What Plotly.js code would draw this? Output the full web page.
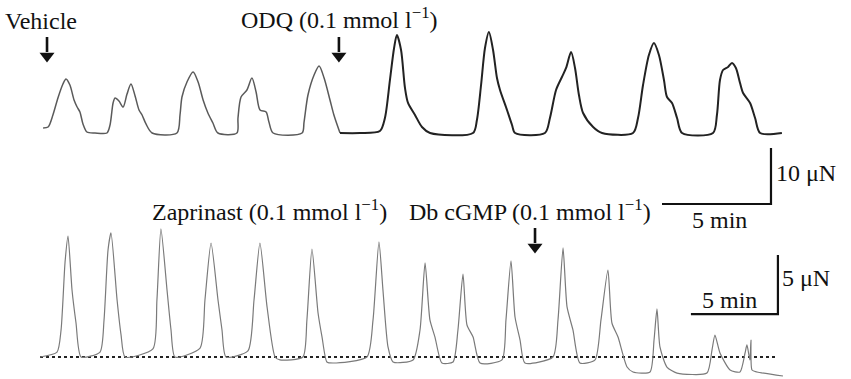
<!DOCTYPE html>
<html>
<head>
<meta charset="utf-8">
<script src="https://cdn.plot.ly/plotly-3.0.1.min.js"></script>
<style>html,body{margin:0;padding:0;background:#fff;}#chart{width:851px;height:379px;}</style>
</head>
<body>
<div id="chart"></div>
<script>
// ---- Top trace (time in min, force in μN) : vehicle period ----
const topVehT = [0.05,0.28,0.50,0.73,0.96,1.10,1.28,1.47,1.61,1.74,1.88,2.06,2.43,2.98,
  3.12,3.26,3.35,3.53,3.72,3.90,4.08,4.27,4.45,4.59,4.77,5.05,6.19,
  6.33,6.42,6.65,6.93,7.16,7.39,7.61,7.84,8.07,8.94,
  8.99,9.13,9.40,9.63,9.82,10.00,10.28,10.41,10.60,11.93,
  12.02,12.20,12.48,12.71,12.94,13.21,13.39,13.67];
const topVehF = [0.89,1.07,3.21,6.25,8.75,9.64,8.57,5.89,4.64,3.75,1.61,0.18,0,0,
  1.43,5.36,6.25,5.71,4.64,6.96,8.75,6.61,4.11,3.21,1.61,0,0,
  3.21,6.43,9.11,10.89,9.11,5.89,3.57,1.79,0,0,
  2.68,6.43,7.68,9.82,7.32,4.11,3.75,1.96,0,0,
  1.96,6.79,10.36,11.96,9.82,5.89,3.21,0];
// ---- Top trace : ODQ period ----
const topOdqT = [13.67,14.59,15.50,15.73,15.96,16.15,16.28,16.47,16.65,16.79,17.11,17.43,17.80,19.77,
  19.95,20.14,20.32,20.50,20.69,20.87,21.01,21.33,21.56,21.70,23.07,
  23.30,23.58,23.85,24.04,24.27,24.45,24.63,24.82,25.28,25.69,27.11,
  27.34,27.57,27.84,28.07,28.30,28.53,28.67,28.90,29.13,29.36,30.78,
  30.96,31.10,31.24,31.47,31.65,31.83,32.02,32.16,32.48,32.71,32.94,33.94];
const topOdqF = [0,0,0.36,2.68,9.46,15.18,17.50,14.82,8.04,5.36,3.21,1.07,0,0,
  2.32,8.57,15.18,18.04,14.82,9.82,7.68,4.11,1.43,0,0,
  2.68,7.68,10.00,11.61,14.46,11.61,6.79,3.57,1.07,0,0,
  2.68,8.57,13.93,16.07,13.93,9.46,6.43,5.36,2.68,0,0,
  3.21,9.46,11.25,11.79,12.50,11.61,8.93,7.14,5.36,2.68,0,0];
// ---- Bottom trace (time in min, force in μN) ----
const botT = [0,0.98,1.21,1.44,1.61,1.84,2.07,2.36,3.45,3.68,3.91,4.08,4.43,4.66,4.89,
  6.49,6.72,6.95,7.30,7.53,7.76,9.20,9.48,9.83,10.23,10.46,10.69,
  11.95,12.30,12.64,13.05,13.51,13.79,15.11,15.34,15.63,15.98,16.21,16.49,16.84,
  18.79,19.14,19.48,19.71,20.00,20.29,21.44,21.84,22.13,22.41,22.70,23.10,23.74,
  24.02,24.31,24.54,24.89,25.29,26.55,26.78,27.07,27.30,27.59,27.87,
  29.48,29.77,30.06,30.29,30.63,31.03,31.90,32.24,32.64,32.87,33.22,33.74,34.08,
  35.06,35.29,35.46,35.63,36.03,36.61,38.33,38.62,38.79,39.08,39.66,40.23,
  40.52,40.63,40.80,40.86,40.92,41.21,42.70];
const botF = [0,0.42,2.29,8.05,10.25,5.68,2.88,0,0.42,3.14,9.07,10.51,4.83,1.86,0,
  0.68,4.83,10.85,5.68,2.29,0,0.76,4.83,9.66,4.83,2.29,0,
  0.51,4.83,9.66,4.24,0,-0.25,0,3.14,9.15,3.73,1.69,-0.42,-0.51,
  0,3.14,9.75,5.68,0.85,-0.42,-0.25,2.29,7.97,3.14,1.69,-0.51,-0.42,
  2.29,7.03,2.71,1.69,-0.51,-0.25,3.14,8.14,3.39,1.44,-0.51,
  0,3.14,9.24,4.24,2.29,-0.51,-0.25,3.14,7.37,2.88,1.69,-0.85,-1.27,
  -1.27,1.44,4.07,0.85,-0.85,-1.36,-1.36,0.59,1.86,0.34,-1.10,-1.27,
  0.34,1.02,-0.25,1.44,-1.10,-1.27,-1.61];
// baseline reference (dotted)
const baseT = [0, 42.41];
const baseF = [0, 0];
// scale bars: 5 min x 10 μN (top), 5 min x 5 μN (bottom)
const topBarT = [28.44, 33.44, 33.44];
const topBarF = [-12.68, -12.68, -2.68];
const botBarT = [37.41, 42.41, 42.41];
const botBarF = [3.64, 3.64, 8.64];
// drug additions (min)
const topAddT = [0.23, 13.62];   // Vehicle, ODQ
const botAddT = [28.45];         // Db cGMP

// ---- pixel <-> axis helpers (layout only) ----
const W = 851, H = 379;
const topX = {range:[-1.927, 37.11]}, topY = {range:[-43.93, 23.75]};
const botX = {range:[-2.299, 46.61]}, botY = {range:[-1.864, 30.25]};
function yFromPx(ax, py){ const r = ax.range; return r[1] - (py / H) * (r[1] - r[0]); }

const serif = "Liberation Serif, Times New Roman, serif";
const traces = [
  {x: topVehT, y: topVehF, xaxis:'x', yaxis:'y', mode:'lines', line:{color:'#5a5a5a', width:1.5, shape:'spline', smoothing:0.8}},
  {x: topOdqT, y: topOdqF, xaxis:'x', yaxis:'y', mode:'lines', line:{color:'#222', width:2.0, shape:'spline', smoothing:0.8}},
  {x: baseT, y: baseF, xaxis:'x2', yaxis:'y2', mode:'lines', line:{color:'#222', width:2.2, dash:'dot'}},
  {x: botT, y: botF, xaxis:'x2', yaxis:'y2', mode:'lines', line:{color:'#7a7a7a', width:1.2, shape:'spline', smoothing:0.6}},
  {x: topBarT, y: topBarF, xaxis:'x', yaxis:'y', mode:'lines', line:{color:'#111', width:2.2}},
  {x: botBarT, y: botBarF, xaxis:'x2', yaxis:'y2', mode:'lines', line:{color:'#111', width:2.2}}
];
// arrows marking drug additions
function arrowTraces(ts, xa, ya, axY, pTop, pShaftEnd, pHead){
  const out = [];
  ts.forEach(t => {
    out.push({x:[t,t], y:[yFromPx(axY,pTop), yFromPx(axY,pShaftEnd)], xaxis:xa, yaxis:ya, mode:'lines', line:{color:'#111', width:2.6}});
    out.push({x:[t], y:[yFromPx(axY,pHead)], xaxis:xa, yaxis:ya, mode:'markers', marker:{symbol:'triangle-down', size:13, color:'#111', line:{width:0}}});
  });
  return out;
}
traces.push(...arrowTraces(topAddT, 'x', 'y', topY, 37, 52, 56));
traces.push(...arrowTraces(botAddT, 'x2', 'y2', botY, 228, 243, 247));

function T(text, px, py, anchor){
  return {text:text, xref:'paper', yref:'paper', x:px/W, y:1-py/H, xanchor:anchor||'left', yanchor:'middle',
    showarrow:false, font:{family:serif, size:24, color:'#111'}};
}
const annotations = [
  T('Vehicle', 3, 21),
  T('ODQ (0.1 mmol l<sup>\u22121</sup>)', 239, 18),
  T('Zaprinast (0.1 mmol l<sup>\u22121</sup>)', 150, 210),
  T('Db cGMP (0.1 mmol l<sup>\u22121</sup>)', 407, 210),
  T('10 \u03bcN', 774, 173),
  T('5 min', 719, 220, 'center'),
  T('5 \u03bcN', 780, 278),
  T('5 min', 729, 300, 'center')
];
const layout = {
  width:W, height:H, margin:{l:0,r:0,t:0,b:0}, showlegend:false,
  paper_bgcolor:'#fff', plot_bgcolor:'rgba(0,0,0,0)',
  xaxis:Object.assign({visible:false, domain:[0,1], fixedrange:true}, topX),
  yaxis:Object.assign({visible:false, domain:[0,1], fixedrange:true}, topY),
  xaxis2:Object.assign({visible:false, domain:[0,1], anchor:'y2', overlaying:'x'}, botX),
  yaxis2:Object.assign({visible:false, domain:[0,1], anchor:'x2', overlaying:'y'}, botY),
  annotations: annotations
};
Plotly.newPlot('chart', traces, layout, {staticPlot:true, displayModeBar:false});
</script>
</body>
</html>
